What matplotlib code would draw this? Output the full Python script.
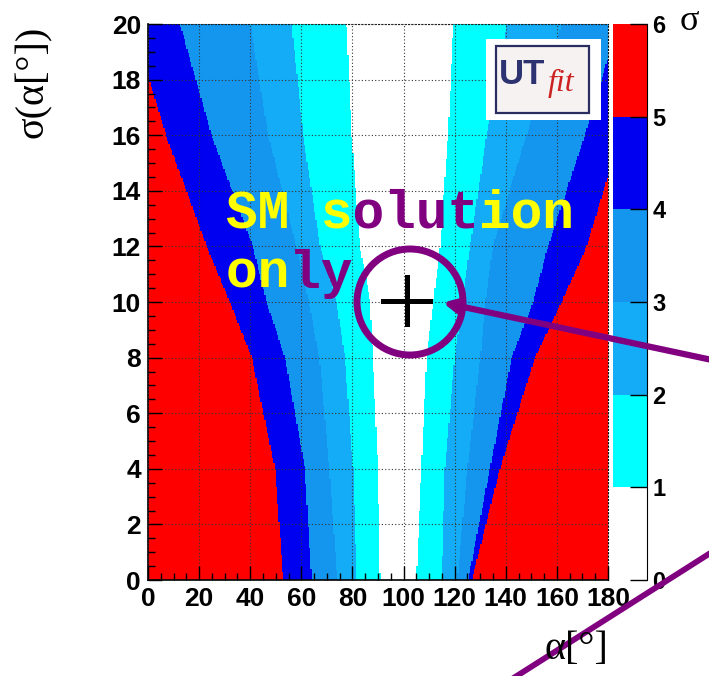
import numpy as np
import matplotlib
matplotlib.use("Agg")
import matplotlib.pyplot as plt
from matplotlib.colors import ListedColormap, BoundaryNorm
from matplotlib.patches import Rectangle, Ellipse, FancyArrowPatch
from matplotlib.lines import Line2D
import matplotlib.colorbar as mcolorbar

sig_pts = [0, 4, 8, 10, 12, 16, 20]

# left edges (alpha below edge -> at least k sigma)
left_1 = [90.8, 90.0, 88.0, 86.9, 83.0, 79.7, 77.7]
left_2 = [81.7, 80.3, 77.0, 73.8, 67.3, 60.7, 56.2]
left_3 = [74.0, 71.0, 67.0, 63.0, 58.0, 47.0, 40.0]
left_4 = [64.0, 61.4, 53.6, 46.4, 41.0, 24.9, 12.5]
left_5 = [53.0, 49.7, 40.6, 32.0, 23.0, 7.0, -6.0]

# right edges (alpha above edge -> at least k sigma)
right_1 = [105.0, 107.0, 109.0, 111.6, 114.3, 117.4, 119.5]
right_2 = [115.0, 116.2, 120.0, 123.0, 126.0, 132.5, 140.3]
right_3 = [121.0, 125.0, 130.0, 132.0, 135.0, 148.0, 162.0]
right_4 = [125.2, 133.8, 142.3, 150.7, 156.5, 171.0, 184.0]
right_5 = [126.7, 137.7, 151.4, 161.9, 171.6, 185.0, 199.0]

levels = [0, 1, 2, 3, 4, 5, 6]
level_colors = ['#ffffff', '#00ffff', '#14acf6', '#1496ef', '#0000f0', '#ff0000']
x_ticks = [0, 20, 40, 60, 80, 100, 120, 140, 160, 180]
y_ticks = [0, 2, 4, 6, 8, 10, 12, 14, 16, 18, 20]

W, H = 709, 676
fx = lambda x: x / W
fy = lambda y: 1 - y / H

fig = plt.figure(figsize=(W / 100, H / 100), dpi=100)
ax = fig.add_axes([fx(148), fy(580), 460 / W, 556 / H])
cax = fig.add_axes([fx(613), fy(580), 34 / W, 556 / H])

# build the significance map on a histogram-like grid
a_edges = np.linspace(0, 180, 361)
s_edges = np.linspace(0, 20, 401)
ac = 0.5 * (a_edges[1:] + a_edges[:-1])
sc = 0.5 * (s_edges[1:] + s_edges[:-1])
A, S = np.meshgrid(ac, sc)
lev = np.zeros_like(A)
for L, R in zip([left_1, left_2, left_3, left_4, left_5],
                [right_1, right_2, right_3, right_4, right_5]):
    lb = np.interp(S, sig_pts, L)
    rb = np.interp(S, sig_pts, R)
    lev += ((A < lb) | (A > rb)).astype(float)

cmap = ListedColormap(level_colors)
norm = BoundaryNorm(levels, cmap.N)
ax.pcolormesh(a_edges, s_edges, lev + 0.5, cmap=cmap, norm=norm, shading='flat')

ax.set_xlim(0, 180)
ax.set_ylim(0, 20)
ax.set_xticks(x_ticks)
ax.set_yticks(y_ticks)
ax.set_xticks(np.arange(0, 181, 5), minor=True)
ax.set_yticks(np.arange(0, 20.01, 0.5), minor=True)
ax.tick_params(which='major', direction='in', length=10, width=1, pad=5)
ax.tick_params(which='minor', direction='in', length=5, width=1)
for lab in ax.get_xticklabels() + ax.get_yticklabels():
    lab.set_fontfamily('Liberation Sans')
    lab.set_fontweight('bold')
    lab.set_fontsize(19)
ax.grid(True, which='major', color='#333333', linestyle=(0, (1, 2)), linewidth=0.8)
ax.set_axisbelow(False)
for side in ['top', 'right']:
    ax.spines[side].set_linestyle((0, (1, 2)))
    ax.spines[side].set_linewidth(0.8)
for side in ['left', 'bottom']:
    ax.spines[side].set_linewidth(1.2)

# colour scale
cb = mcolorbar.ColorbarBase(cax, cmap=cmap, norm=norm, ticks=levels)
cb.outline.set_visible(False)
cax.spines['right'].set_visible(True)
cax.tick_params(direction='in', length=12, width=1, pad=4, right=True, left=False)
for lab in cax.get_yticklabels():
    lab.set_fontfamily('Liberation Sans')
    lab.set_fontweight('bold')
    lab.set_fontsize(17)
fig.text(fx(689), fy(22), 'σ', fontsize=26, family='Liberation Serif',
         ha='center', va='center')

# axis titles
fig.text(fx(33), fy(82), 'σ(α[°])', fontsize=29, family='Liberation Serif',
         rotation=90, ha='center', va='center')
fig.text(fx(576), fy(650), 'α[°]', fontsize=29, family='Liberation Serif',
         ha='center', va='center')

# logo box
ax.add_patch(Rectangle((132.3, 16.55), 44.8, 2.9, facecolor='white',
                       edgecolor='none', zorder=5))
ax.add_patch(Rectangle((136.2, 16.81), 36.4, 2.4, facecolor='#f6f2f2',
                       edgecolor='#2a2d60', linewidth=1.6, zorder=6))
ax.text(146.5, 18.2, 'UT', fontsize=25, fontweight='bold', color='#2d3270',
        family='Liberation Sans', ha='center', va='center', zorder=7)
ax.text(161.5, 17.85, 'fit', fontsize=23, style='italic', color='#cc2222',
        family='Liberation Serif', ha='center', va='center', zorder=7)

# annotation text, monospace so the two colours line up
mono = dict(fontsize=38, fontweight='bold', family='Liberation Mono', va='baseline')
fig.text(fx(226), fy(227), 'SM s    ion', color='#ffff00', **mono)
fig.text(fx(226), fy(227), '    olut   ', color='#800080', **mono)
fig.text(fx(226), fy(288), 'on  ', color='#ffff00', **mono)
fig.text(fx(226), fy(288), '  ly', color='#800080', **mono)

# circle, cross and arrows
fig.add_artist(Ellipse((fx(410), fy(302)), 106 / W, 106 / H, transform=fig.transFigure,
                       fill=False, edgecolor='#800080', linewidth=5))
fig.add_artist(Line2D([fx(383), fx(430)], [fy(301), fy(301)], color='black',
                      linewidth=3.6, transform=fig.transFigure))
fig.add_artist(Line2D([fx(406.5), fx(406.5)], [fy(277), fy(324)], color='black',
                      linewidth=3.6, transform=fig.transFigure))
fig.add_artist(FancyArrowPatch((fx(712), fy(360)), (fx(440), fy(302)),
                               transform=fig.transFigure, arrowstyle='-|>',
                               mutation_scale=22, color='#800080', linewidth=4.5))
fig.add_artist(Line2D([fx(512), fx(712)], [fy(679), fy(552)], color='#800080',
                      linewidth=4.2, transform=fig.transFigure))

fig.savefig('out.png', dpi=100)
